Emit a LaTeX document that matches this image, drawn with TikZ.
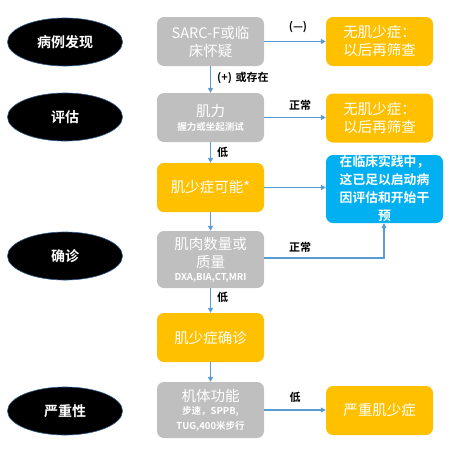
\documentclass[tikz,border=0pt]{standalone}
\usepackage{fontspec}
\setmainfont{Noto Sans CJK SC}
\newfontfamily\cjkb{Noto Sans CJK SC Bold}
\newcommand\subtxt{\cjkb\fontsize{9.5}{10}\selectfont}
\usetikzlibrary{shapes.geometric,arrows.meta}
\definecolor{boxgray}{HTML}{BFBFBF}
\definecolor{boxyel}{HTML}{FFC000}
\definecolor{boxblue}{HTML}{00B0F0}
\definecolor{arr}{HTML}{5B9BD5}
\definecolor{ellb}{HTML}{2E5A8A}
\tikzset{
  stage/.style={ellipse, fill=black, draw=ellb, line width=0.6pt, minimum width=115pt, minimum height=48pt, inner sep=0pt, text=white, font=\cjkb\fontsize{14}{16}\selectfont},
  gbox/.style={rectangle, rounded corners=7pt, fill=boxgray, text=white, align=center, inner sep=0pt, font=\fontsize{14.5}{18}\selectfont},
  ybox/.style={gbox, fill=boxyel},
  bbox/.style={gbox, fill=boxblue, font=\cjkb\fontsize{12.8}{18}\selectfont},
  conn/.style={draw=arr, line width=1.2pt, -{Triangle[length=5pt,width=5pt]}},
  lab/.style={font=\cjkb\fontsize{11}{12}\selectfont, text=black, inner sep=0pt}
}
\begin{document}
\begin{tikzpicture}[x=1pt,y=-1pt]
\useasboundingbox (0,0) rectangle (455,451);
% stage ellipses
\node[stage] (e1) at (65,42) {病例发现};
\node[stage] (e2) at (65,117) {评估};
\node[stage] (e3) at (65,256) {确诊};
\node[stage] (e4) at (65,411) {严重性};
% left column boxes
\node[gbox, minimum width=107pt, minimum height=49pt] (b1) at (210.5,41.5) {SARC-F或临\\床怀疑};
\node[gbox, minimum width=107pt, minimum height=49pt] (b2) at (210.5,117.5) {肌力\\[-4pt]{\subtxt 握力或坐起测试}};
\node[ybox, minimum width=107pt, minimum height=49pt] (b3) at (210.5,187.5) {肌少症可能*};
\node[gbox, minimum width=107pt, minimum height=57pt] (b4) at (210.5,259.5) {肌肉数量或\\质量\\[-5pt]{\subtxt DXA,BIA,CT,MRI}};
\node[ybox, minimum width=107pt, minimum height=49pt] (b5) at (210.5,337.5) {肌少症确诊};
\node[gbox, minimum width=107pt, minimum height=56pt] (b6) at (210.5,410) {机体功能\\[-5pt]{\subtxt 步速，SPPB,}\\[-3pt]{\subtxt TUG,400米步行}};
% right column boxes
\node[ybox, minimum width=107pt, minimum height=49pt] (r1) at (379.5,41.5) {无肌少症：\\以后再筛查};
\node[ybox, minimum width=107pt, minimum height=49pt] (r2) at (379.5,118) {无肌少症：\\以后再筛查};
\node[bbox, minimum width=117pt, minimum height=68pt] (r3) at (384.5,189) {在临床实践中，\\这已足以启动病\\因评估和开始干\\预};
\node[ybox, minimum width=107pt, minimum height=49pt] (r4) at (379.5,410.5) {严重肌少症};
% vertical connectors
\draw[conn] (b1) -- (b2);
\draw[conn] (b2) -- (b3);
\draw[conn] (b3) -- (b4);
\draw[conn] (b4) -- (b5);
\draw[conn] (b5) -- (b6);
% horizontal connectors
\draw[conn] (b1.east) -- (r1.west |- b1.east);
\draw[conn] (b2.east) -- (r2.west |- b2.east);
\draw[conn] (b3.east) -- (r3.west |- b3.east);
\coordinate (k) at (384,258);
\draw[conn] (b4.east |- k) -- (k) -- (r3.south -| k);
\draw[conn] (b6.east) -- (r4.west |- b6.east);
% labels
\node[lab] (l1) at (298,27) {(—)};
\node[lab, anchor=west] (l2) at (217,78) {(+)\,\,或存在};
\node[lab] (l3) at (300,105) {正常};
\node[lab, anchor=west] (l4) at (217,152) {低};
\node[lab] (l5) at (300,247) {正常};
\node[lab, anchor=west] (l6) at (217,297) {低};
\node[lab] (l7) at (295,397) {低};
\end{tikzpicture}
\end{document}
